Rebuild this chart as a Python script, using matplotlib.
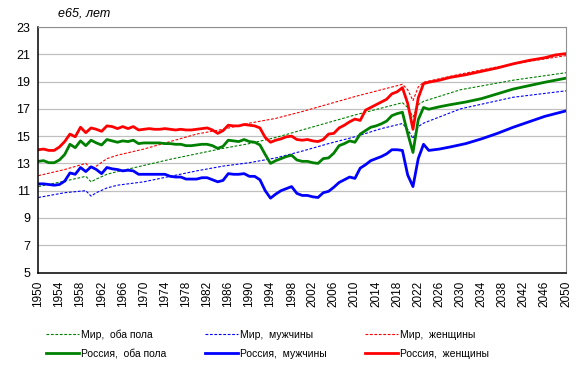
import numpy as np
import matplotlib.pyplot as plt

plt.rcParams['font.family'] = ['Liberation Sans', 'DejaVu Sans']

# Russia: annual 1950-2024, then forecast points
rus_years = list(range(1950, 2025)) + [2026, 2028, 2031, 2034, 2037, 2040, 2043, 2046, 2048, 2050]

rus_female = [14.0, 14.05, 13.95, 13.95, 14.2, 14.6, 15.15, 14.95, 15.65, 15.25,
              15.6, 15.5, 15.35, 15.75, 15.7, 15.55, 15.7, 15.55, 15.7, 15.45,
              15.5, 15.55, 15.5, 15.5, 15.55, 15.5, 15.45, 15.5, 15.45, 15.45,
              15.5, 15.55, 15.6, 15.45, 15.2, 15.4, 15.8, 15.75, 15.75, 15.85,
              15.8, 15.75, 15.6, 14.9, 14.55, 14.7, 14.8, 14.95, 15.0, 14.75,
              14.7, 14.75, 14.65, 14.6, 14.75, 15.15, 15.2, 15.6, 15.8, 16.05,
              16.25, 16.15, 16.9, 17.1, 17.3, 17.5, 17.7, 18.1, 18.25, 18.55,
              17.4, 15.5, 17.8, 18.85, 18.95,
              19.1, 19.3, 19.5, 19.75, 20.0, 20.3, 20.55, 20.75, 20.95, 21.05]

rus_both = [13.15, 13.2, 13.05, 13.05, 13.25, 13.65, 14.4, 14.15, 14.65, 14.3,
            14.7, 14.5, 14.35, 14.75, 14.65, 14.55, 14.65, 14.6, 14.7, 14.45,
            14.5, 14.5, 14.5, 14.5, 14.45, 14.45, 14.4, 14.4, 14.3, 14.3,
            14.35, 14.4, 14.4, 14.3, 14.1, 14.25, 14.7, 14.65, 14.6, 14.75,
            14.6, 14.55, 14.35, 13.65, 13.0, 13.2, 13.35, 13.5, 13.6, 13.25,
            13.15, 13.15, 13.05, 13.0, 13.35, 13.4, 13.75, 14.3, 14.45, 14.65,
            14.55, 15.15, 15.4, 15.65, 15.75, 15.9, 16.1, 16.5, 16.65, 16.75,
            15.2, 13.8, 16.2, 17.1, 16.97,
            17.15, 17.3, 17.5, 17.75, 18.1, 18.45, 18.7, 18.95, 19.1, 19.25]

rus_male = [11.5, 11.5, 11.45, 11.4, 11.45, 11.7, 12.3, 12.2, 12.7, 12.4,
            12.75, 12.55, 12.25, 12.7, 12.6, 12.55, 12.45, 12.5, 12.45, 12.2,
            12.2, 12.2, 12.2, 12.2, 12.2, 12.05, 12.0, 12.0, 11.85, 11.85,
            11.85, 11.95, 11.95, 11.8, 11.65, 11.75, 12.25, 12.2, 12.2, 12.25,
            12.05, 12.05, 11.8, 11.0, 10.45, 10.75, 11.0, 11.15, 11.3, 10.8,
            10.65, 10.65, 10.55, 10.5, 10.85, 10.95, 11.25, 11.6, 11.8, 12.0,
            11.9, 12.65, 12.9, 13.2, 13.35, 13.5, 13.7, 14.0, 14.0, 13.95,
            12.15, 11.3, 13.35, 14.4, 13.95,
            14.05, 14.2, 14.45, 14.8, 15.2, 15.65, 16.05, 16.45, 16.65, 16.85]

# World
world_years = [1950, 1955, 1959, 1960, 1961, 1963, 1965, 1970, 1975, 1980, 1985, 1990,
               1995, 2000, 2005, 2010, 2015, 2019, 2020, 2021, 2022, 2023, 2030, 2040, 2050]
world_both = [11.3, 11.7, 12.05, 11.65, 11.85, 12.2, 12.4, 12.85, 13.3, 13.7, 14.1, 14.45,
              14.9, 15.45, 16.0, 16.55, 17.05, 17.45, 17.1, 16.4, 17.3, 17.55, 18.4, 19.1, 19.65]
world_male = [10.5, 10.85, 11.0, 10.6, 10.85, 11.2, 11.4, 11.65, 12.05, 12.45, 12.8, 13.05,
              13.4, 13.9, 14.45, 14.95, 15.55, 15.92, 15.5, 14.82, 15.7, 15.95, 17.0, 17.85, 18.32]
world_female = [12.1, 12.55, 13.0, 12.6, 12.8, 13.35, 13.6, 14.05, 14.6, 15.15, 15.5, 15.95,
                16.3, 16.8, 17.35, 17.9, 18.4, 18.8, 18.4, 17.6, 18.6, 18.95, 19.55, 20.3, 20.9]

green = '#008000'
blue = '#0000ff'
red = '#ff0000'

fig = plt.figure(figsize=(5.81, 3.70), dpi=100)
ax = fig.add_axes([38.3/581, 1 - 272.5/370, (566 - 38.3)/581, (272.5 - 27)/370])

dash = (0, (2.5, 1.5))
l1, = ax.plot(world_years, world_both, color=green, lw=0.8, linestyle=dash, label='Мир,  оба пола')
l3, = ax.plot(world_years, world_male, color=blue, lw=0.8, linestyle=dash, label='Мир,  мужчины')
l5, = ax.plot(world_years, world_female, color=red, lw=0.8, linestyle=dash, label='Мир,  женщины')
l2, = ax.plot(rus_years, rus_both, color=green, lw=2.0, label='Россия,  оба пола')
l4, = ax.plot(rus_years, rus_male, color=blue, lw=2.0, label='Россия,  мужчины')
l6, = ax.plot(rus_years, rus_female, color=red, lw=2.0, label='Россия,  женщины')

ax.set_xlim(1950, 2050)
ax.set_ylim(5, 23)
ax.set_yticks(np.arange(5, 24, 2))
ax.set_xticks(np.arange(1950, 2051, 4))
ax.tick_params(axis='x', labelrotation=90, labelsize=8.5, length=0, pad=6)
ax.tick_params(axis='y', labelsize=9, length=0, pad=6)
ax.grid(axis='y', color='#c0c0c0', lw=0.9)
ax.set_axisbelow(True)
for s in ['top', 'right']:
    ax.spines[s].set_color('#909090')
for s in ['left', 'bottom']:
    ax.spines[s].set_color('black')
    ax.spines[s].set_linewidth(1.1)

fig.text(58/581, 1 - 13/370, 'e65, лет', fontsize=9, style='italic', va='center', ha='left')

fig.legend(handles=[l1, l2, l3, l4, l5, l6], ncol=3, loc='upper left',
           bbox_to_anchor=(46/581, 1 - 329.5/370), frameon=False, fontsize=7.5,
           handlelength=3.2, handletextpad=0.15, columnspacing=3.7,
           labelspacing=0.85, borderpad=0, borderaxespad=0)

fig.savefig('out.png', dpi=100)
